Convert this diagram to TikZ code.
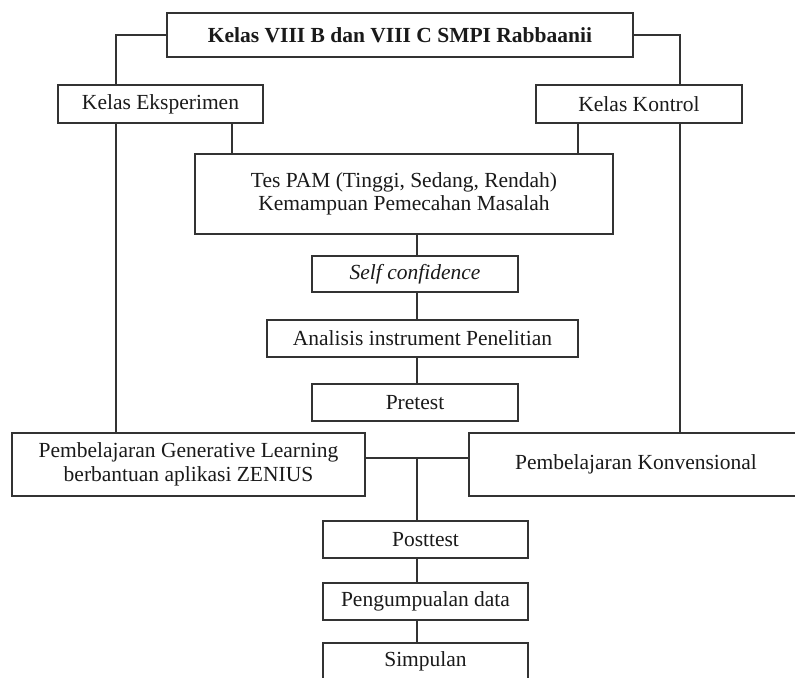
\documentclass[tikz,border=0pt]{standalone}
\usepackage{fontspec}
\setmainfont{Liberation Serif}
\definecolor{ink}{HTML}{1A1A1A}
\definecolor{rule}{HTML}{333333}
\newcommand{\boxfont}{\fontsize{10.75}{11.75}\selectfont}
\tikzset{
  flowbox/.style={draw=rule, line width=0.65pt, text=ink, font=\boxfont,
    inner sep=0pt, align=center, minimum height=#1},
  flowbox/.default=18.5pt,
  link/.style={draw=rule, line width=0.65pt}
}

\begin{document}
\begin{tikzpicture}[x=0.5pt,y=-0.5pt]
  \clip (0,0) rectangle (795,677);
  \fill[white] (0,0) rectangle (795,677);

  % Top row: school and the two groups.
  \node[flowbox=22pt, minimum width=233pt, font=\boxfont\bfseries] (kelas) at (400,35) {Kelas VIII B dan VIII C SMPI Rabbaanii};
  \node[flowbox=19pt, minimum width=102.5pt] (eksp) at (160.5,104) {Kelas Eksperimen};
  \node[flowbox=19pt, minimum width=103pt] (kontrol) at (639,104) {Kelas Kontrol};

  % Middle column: tests and instruments.
  \node[flowbox=40pt, minimum width=209pt] (tes) at (404,194) {Tes PAM (Tinggi, Sedang, Rendah)\\Kemampuan Pemecahan Masalah};
  \node[flowbox=18pt, minimum width=103pt] (self) at (415,274) {\itshape Self confidence};
  \node[flowbox, minimum width=155.5pt] (analisis) at (422.5,338.5) {Analisis instrument Penelitian};
  \node[flowbox, minimum width=103pt] (pretest) at (415,402.5) {Pretest};

  % Treatments.
  \node[flowbox=31.5pt, minimum width=176.5pt] (generatif) at (188.5,464.5) {Pembelajaran Generative Learning\\berbantuan aplikasi ZENIUS};
  \node[flowbox=31.5pt, minimum width=167pt] (konvensional) at (636,464.5) {Pembelajaran Konvensional};

  % Bottom column.
  \node[flowbox, minimum width=102.5pt] (posttest) at (425.5,539.5) {Posttest};
  \node[flowbox, minimum width=102.5pt] (data) at (425.5,601.5) {Pengumpualan data};
  \node[flowbox, minimum width=102.5pt] (simpulan) at (425.5,661.5) {Simpulan};

  % Guide coordinates for the connectors.
  \coordinate (lx) at (116,0);
  \coordinate (rx) at (680,0);
  \coordinate (ex) at (232,0);
  \coordinate (kx) at (578,0);
  \coordinate (cx) at (417,0);
  \coordinate (mid) at (417,458);

  \draw[link] (kelas.west) -| (eksp.north -| lx);
  \draw[link] (kelas.east) -| (kontrol.north -| rx);
  \draw[link] (eksp.south -| lx) -- (generatif.north -| lx);
  \draw[link] (kontrol.south -| rx) -- (konvensional.north -| rx);
  \draw[link] (eksp.south -| ex) -- (tes.north -| ex);
  \draw[link] (kontrol.south -| kx) -- (tes.north -| kx);
  \draw[link] (tes.south -| cx) -- (self.north -| cx);
  \draw[link] (self.south -| cx) -- (analisis.north -| cx);
  \draw[link] (analisis.south -| cx) -- (pretest.north -| cx);
  \draw[link] (generatif.east |- mid) -- (konvensional.west |- mid);
  \draw[link] (mid) -- (posttest.north -| mid);
  \draw[link] (posttest.south -| cx) -- (data.north -| cx);
  \draw[link] (data.south -| cx) -- (simpulan.north -| cx);
\end{tikzpicture}
\end{document}
